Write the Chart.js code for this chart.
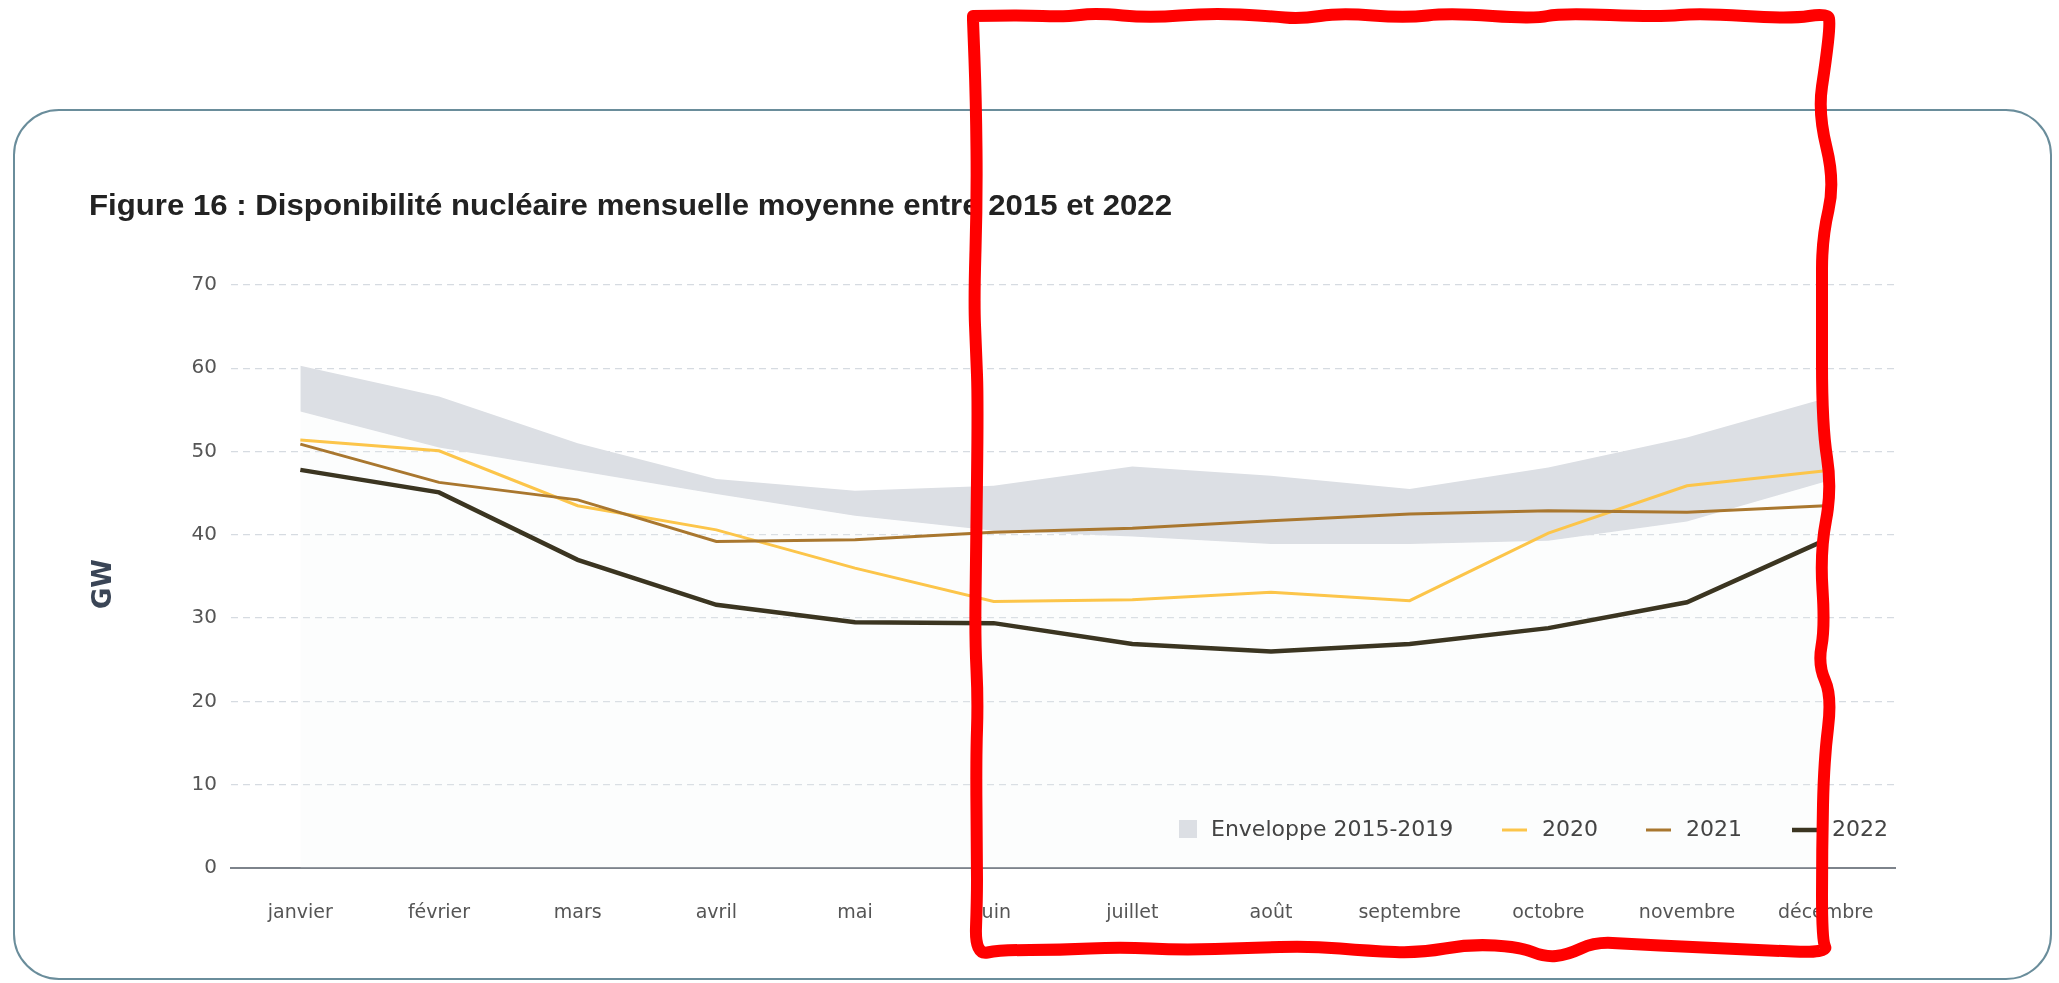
<!DOCTYPE html>
<html lang="fr">
<head>
<meta charset="utf-8">
<script src="https://cdn.jsdelivr.net/npm/chart.js@4.4.1/dist/chart.umd.min.js"></script>
<style>
  html, body { margin:0; padding:0; background:#fff; }
  body { width:2059px; height:983px; position:relative; overflow:hidden; }
  #frame { position:absolute; left:13px; top:109px; width:2035px; height:867px;
           border:2px solid #6a8d9b; border-radius:46px; box-sizing:content-box; }
  #title { position:absolute; left:89px; top:189px; white-space:nowrap;
           font-family:"Liberation Sans", Arial, sans-serif; font-weight:bold; font-size:30px;
           color:#222; transform-origin:0 50%; display:inline-block; line-height:32px; }
  #gw { position:absolute; left:102px; top:584px; transform:translate(-50%,-50%) rotate(-90deg);
        font-family:"DejaVu Sans", sans-serif; font-weight:bold; font-size:26px; color:#3a4556; }
  #c { position:absolute; left:0; top:0; }
  #mark { position:absolute; left:0; top:0; pointer-events:none; }
</style>
</head>
<body>
<div id="frame"></div>
<canvas id="c" width="2059" height="983"></canvas>
<div id="title">Figure 16 : Disponibilité nucléaire mensuelle moyenne entre 2015 et 2022</div>
<div id="gw">GW</div>
<svg id="mark" width="2059" height="983" viewBox="0 0 2059 983"></svg>
<script>
// ---- data ----
const months = ['janvier','février','mars','avril','mai','juin','juillet','août','septembre','octobre','novembre','décembre'];
const envelopeMin = [54.8, 50.5, 47.7, 44.9, 42.3, 40.5, 39.8, 38.9, 38.9, 39.3, 41.6, 46.4];
const envelopeMax = [60.3, 56.6, 51.0, 46.7, 45.3, 45.9, 48.2, 47.1, 45.5, 48.1, 51.7, 56.4];
const avail2020 = [51.4, 50.1, 43.5, 40.6, 36.0, 32.0, 32.2, 33.1, 32.1, 40.2, 45.9, 47.7];
const avail2021 = [50.9, 46.3, 44.2, 39.2, 39.4, 40.3, 40.8, 41.7, 42.5, 42.9, 42.7, 43.5];
const avail2022 = [47.8, 45.1, 37.0, 31.6, 29.5, 29.4, 26.9, 26.0, 26.9, 28.8, 31.9, 39.4];
const yTicks = [0, 10, 20, 30, 40, 50, 60, 70];
const legendLabels = ['Enveloppe 2015-2019', '2020', '2021', '2022'];

// title width fit
(function(){
  const t = document.getElementById('title');
  const w = t.getBoundingClientRect().width;
  t.style.transform = 'scaleX(' + (1083 / w) + ')';
})();

const C2020 = '#fcc54a', C2021 = '#a9772f', C2022 = '#3b3521', CENV = '#dcdfe4';

const legendPlugin = {
  id: 'insideLegend',
  afterDraw(chart) {
    const ctx = chart.ctx;
    const y = 830;
    ctx.save();
    ctx.font = '22px "DejaVu Sans", sans-serif';
    ctx.textBaseline = 'middle';
    ctx.textAlign = 'left';
    ctx.fillStyle = CENV;
    ctx.fillRect(1179, y - 10, 18, 18);
    ctx.fillStyle = '#444';
    ctx.fillText(legendLabels[0], 1211, y);
    const items = [
      {x:1502, c:C2020, w:3, t:legendLabels[1]},
      {x:1646, c:C2021, w:3, t:legendLabels[2]},
      {x:1792, c:C2022, w:4.5, t:legendLabels[3]}
    ];
    items.forEach(it => {
      ctx.strokeStyle = it.c; ctx.lineWidth = it.w; ctx.lineCap = 'butt';
      ctx.beginPath(); ctx.moveTo(it.x, y); ctx.lineTo(it.x + 25, y); ctx.stroke();
      ctx.fillStyle = '#444';
      ctx.fillText(it.t, it.x + 40, y);
    });
    ctx.restore();
  }
};

new Chart(document.getElementById('c'), {
  type: 'line',
  data: {
    labels: months,
    datasets: [
      { label: 'min', data: envelopeMin, borderWidth: 0, pointRadius: 0,
        backgroundColor: 'rgba(236,242,246,0.18)', fill: 'origin', order: 10 },
      { label: legendLabels[0], data: envelopeMax, borderWidth: 0, pointRadius: 0,
        backgroundColor: CENV, fill: 0, order: 9 },
      { label: legendLabels[1], data: avail2020, borderColor: C2020, borderWidth: 3, pointRadius: 0, fill: false, order: 3 },
      { label: legendLabels[2], data: avail2021, borderColor: C2021, borderWidth: 3, pointRadius: 0, fill: false, order: 2 },
      { label: legendLabels[3], data: avail2022, borderColor: C2022, borderWidth: 4.5, pointRadius: 0, fill: false, order: 1 }
    ]
  },
  options: {
    responsive: false,
    animation: false,
    devicePixelRatio: 1,
    layout: { padding: { left: 0, top: 285, right: 164, bottom: 0 } },
    plugins: { legend: { display: false }, tooltip: { enabled: false }, title: { display: false } },
    elements: { line: { tension: 0 } },
    scales: {
      y: {
        min: yTicks[0], max: yTicks[yTicks.length - 1],
        afterBuildTicks(s) { s.ticks = yTicks.map(v => ({ value: v })); },
        afterFit(s) { s.width = 231; s.paddingTop = 0; s.paddingBottom = 0; },
        ticks: { padding: 14, color: '#555', font: { family: '"DejaVu Sans", sans-serif', size: 20 } },
        grid: { color: '#d6dbe1', lineWidth: 1.3, drawTicks: false },
        border: { display: false, dash: [7, 5] }
      },
      x: {
        offset: true,
        afterFit(s) { s.height = 115; s.paddingLeft = 0; s.paddingRight = 0; },
        ticks: { padding: 34, color: '#555', maxRotation: 0, autoSkip: false,
                 font: { family: '"DejaVu Sans", sans-serif', size: 19 } },
        grid: { display: false, drawTicks: false },
        border: { display: true, color: '#7d838b', width: 2 }
      }
    }
  },
  plugins: [legendPlugin]
});

// hand-drawn red annotation frame
(function(){
  const pts = [
    [973,16],[1020,15],[1065,17],[1095,13],[1150,18],[1210,13],[1270,16],[1300,19],[1340,13],[1405,18],
    [1450,13],[1535,19],[1560,13],[1660,17],[1700,13],[1790,19],[1828,13],
    [1830,24],[1826,60],[1818,113],[1835,182],[1822,238],[1822,300],[1822,426],[1832,489],[1820,552],
    [1825,627],[1818,665],[1832,696],[1824,760],[1822,850],[1822,940],[1828,953],
    [1760,950],[1690,947],[1630,944],[1595,942],[1567,955],[1545,957],[1520,947],[1470,944],[1420,953],
    [1370,951],[1310,946],[1250,948],[1180,950],[1120,947],[1060,950],[1000,950],[975,955],
    [977,900],[977,860],[976,760],[978,700],[975,640],[976,560],[978,400],[976,350],[974,300],[977,200],[976,100],[973,20]
  ];
  let d = 'M' + pts[0][0] + ' ' + pts[0][1];
  for (let i = 1; i < pts.length - 1; i++) {
    const mx = (pts[i][0] + pts[i+1][0]) / 2, my = (pts[i][1] + pts[i+1][1]) / 2;
    d += ' Q' + pts[i][0] + ' ' + pts[i][1] + ' ' + mx + ' ' + my;
  }
  d += ' L' + pts[pts.length-1][0] + ' ' + pts[pts.length-1][1] + ' Z';
  const svg = document.getElementById('mark');
  const p = document.createElementNS('http://www.w3.org/2000/svg', 'path');
  p.setAttribute('d', d);
  p.setAttribute('fill', 'none');
  p.setAttribute('stroke', '#ff0000');
  p.setAttribute('stroke-width', '12');
  p.setAttribute('stroke-linejoin', 'round');
  svg.appendChild(p);
})();
</script>
</body>
</html>
